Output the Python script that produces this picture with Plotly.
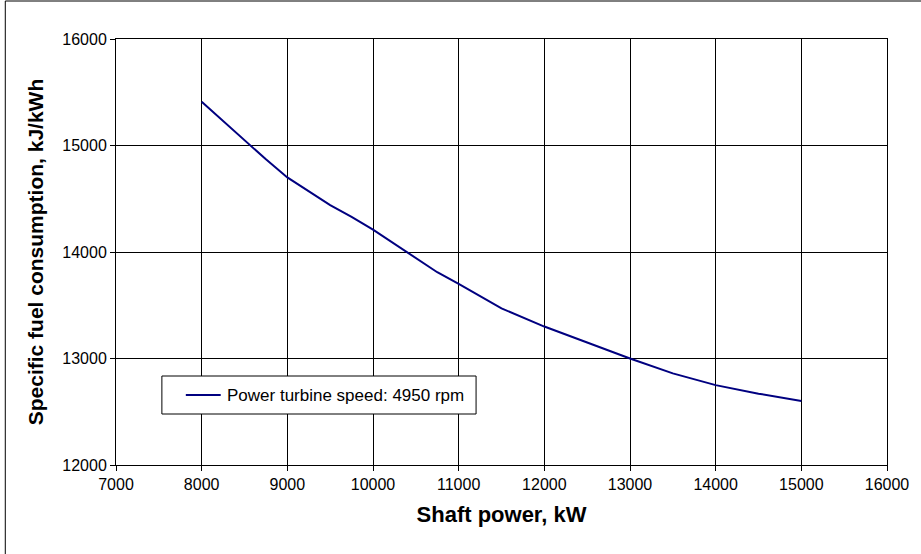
import plotly.graph_objects as go

# Shaft power (kW) and specific fuel consumption (kJ/kWh)
shaft_power = [8000, 8750, 9000, 9500, 9750, 10000, 10750, 11000, 11500,
               12000, 12500, 13000, 13500, 14000, 14500, 15000]
sfc = [15410, 14870, 14700, 14440, 14330, 14210, 13810, 13700, 13470,
       13300, 13150, 13000, 12860, 12750, 12670, 12600]

series_name = "Power turbine speed: 4950 rpm"
x_ticks = list(range(7000, 16001, 1000))
y_ticks = list(range(12000, 16001, 1000))

W, H = 921, 554
L, R, T, B = 116, 32, 39, 89
pw, ph = W - L - R, H - T - B
FONT = "Liberation Sans, Arial, sans-serif"
LINE_COLOR = "#000080"


def px_x(p):
    return (p - L) / pw


def px_y(p):
    return (H - B - p) / ph


fig = go.Figure()
fig.add_trace(go.Scatter(
    x=shaft_power, y=sfc, mode="lines", name=series_name,
    line=dict(color=LINE_COLOR, width=2), showlegend=False,
))

axis_common = dict(
    showgrid=True, gridcolor="#000000", gridwidth=1,
    showline=True, linecolor="#000000", linewidth=1, mirror=True,
    ticks="outside", ticklen=5, tickcolor="#000000",
    tickfont=dict(family=FONT, size=16, color="#000000"),
    zeroline=False,
)

# Legend box drawn by hand (box, sample line, label)
lg_x0, lg_x1, lg_y0, lg_y1 = 162, 477, 376, 414
lg_mid = (lg_y0 + lg_y1) / 2

fig.update_layout(
    width=W, height=H,
    margin=dict(l=L, r=R, t=T, b=B),
    paper_bgcolor="#ffffff", plot_bgcolor="#ffffff",
    xaxis=dict(range=[7000, 16000], tickvals=x_ticks,
               ticktext=[str(v) for v in x_ticks],
               title=dict(text="<b>Shaft power, kW</b>", standoff=14,
                          font=dict(family=FONT, size=22, color="#000000")),
               **axis_common),
    yaxis=dict(range=[12000, 16000], tickvals=y_ticks,
               ticktext=[str(v) for v in y_ticks],
               title=dict(text="<b>Specific fuel consumption, kJ/kWh</b>", standoff=12,
                          font=dict(family=FONT, size=21, color="#000000")),
               **axis_common),
    showlegend=False,
    shapes=[
        dict(type="rect", xref="paper", yref="paper",
             x0=px_x(5), x1=px_x(W + 20), y0=px_y(H + 20), y1=px_y(1),
             line=dict(color="#000000", width=1), fillcolor="rgba(0,0,0,0)",
             layer="below"),
        dict(type="rect", xref="paper", yref="paper",
             x0=px_x(lg_x0), x1=px_x(lg_x1), y0=px_y(lg_y1), y1=px_y(lg_y0),
             line=dict(color="#000000", width=1), fillcolor="#ffffff",
             layer="above"),
        dict(type="line", xref="paper", yref="paper",
             x0=px_x(186), x1=px_x(221), y0=px_y(lg_mid), y1=px_y(lg_mid),
             line=dict(color=LINE_COLOR, width=2), layer="above"),
    ],
    annotations=[dict(
        text=series_name, xref="paper", yref="paper",
        x=px_x(225), y=px_y(lg_mid), xanchor="left", yanchor="middle",
        showarrow=False, font=dict(family=FONT, size=17, color="#000000"),
    )],
)

fig.write_html("out.html")
